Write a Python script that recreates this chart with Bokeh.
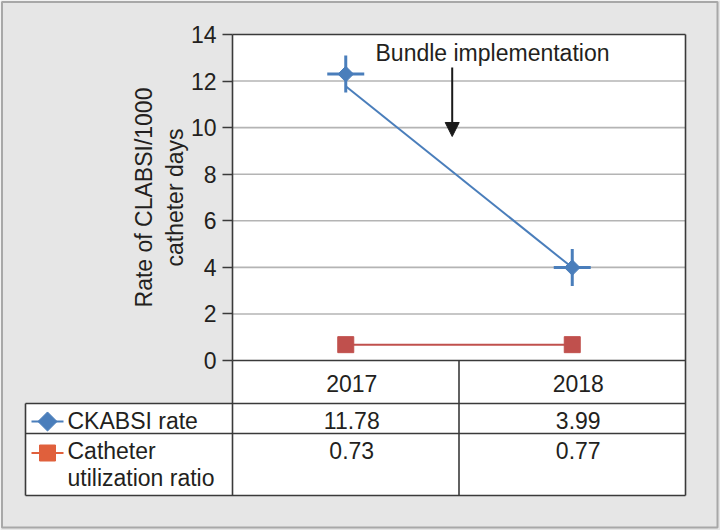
import numpy as np
from bokeh.plotting import figure
from bokeh.models import Range1d, LinearAxis, FixedTicker, Arrow, NormalHead
from bokeh.core.properties import value
from bokeh.embed import file_html
from bokeh.resources import INLINE

# ---------------- data ----------------
years = ["2017", "2018"]
ckabsi_rate = [11.78, 3.99]          # table values (line drawn through them)
ckabsi_marker = [12.3, 3.99]         # marker positions as drawn in the picture
util_ratio = [0.73, 0.77]            # table values
util_ratio_drawn = [0.68, 0.68]      # as drawn in the picture
y_ticks = [0, 2, 4, 6, 8, 10, 12, 14]
series_labels = ["CKABSI rate", "Catheter\nutilization ratio"]
y_title = "Rate of CLABSI/1000\ncatheter days"
note_text = "Bundle implementation"
note_x = 0.97          # arrow position between the two years (category units)
note_y_top = 12.58
note_y_tip = 9.62

# ---------------- layout helpers (page px -> data) ----------------
X0_PX, X_SCALE = 232.0, 226.5
Y0_PX, Y_SCALE = 360.0, 326.0 / 14.0


def dx(px):
    return (px - X0_PX) / X_SCALE


def dy(py):
    return (Y0_PX - py) / Y_SCALE


W, H = 720, 530
FONT = value("Liberation Sans")
TXT = "#231f20"
FS = "23px"
BLUE = "#4a7ebb"
RED = "#c0504d"
GRID = "#b4b4b4"
EDGE = "#3a3a3a"
BG = "#e6e6e6"

p = figure(width=W, height=H,
           x_range=Range1d(dx(0), dx(W)), y_range=Range1d(dy(H), dy(0)),
           x_axis_type=None, y_axis_type=None, toolbar_location=None,
           output_backend="svg", min_border=0)
p.outline_line_color = None
p.background_fill_color = BG
p.border_fill_color = BG

ncat = len(years)
xpos = np.arange(ncat) + 0.5
ymax = y_ticks[-1]

# white areas: plot area, header row, table body
p.quad(left=0, right=ncat, bottom=0, top=ymax, fill_color="white", line_color=None)
p.quad(left=0, right=ncat, bottom=dy(403), top=0, fill_color="white", line_color=None)
p.quad(left=dx(25), right=ncat, bottom=dy(495), top=dy(403), fill_color="white", line_color=None)

# grid lines
gl = [t for t in y_ticks if 0 < t < ymax]
p.segment(x0=[0] * len(gl), x1=[ncat] * len(gl), y0=gl, y1=gl, line_color=GRID, line_width=1.6)

# frame / table lines
hx0 = [0, 0, dx(25), dx(25), dx(25)]
hx1 = [ncat] * 5
hy = [ymax, 0, dy(403), dy(433), dy(495)]
p.segment(x0=hx0, x1=hx1, y0=hy, y1=hy, line_color=EDGE, line_width=1.6)
vx = [dx(25), 0, 1, ncat]
vy0 = [dy(403), 0, 0, ymax]
vy1 = [dy(495)] * 4
p.segment(x0=vx, x1=vx, y0=vy0, y1=vy1, line_color=EDGE, line_width=1.6)

# outer panel border
p.quad(left=dx(1.5), right=dx(717), bottom=dy(527), top=dy(1.5),
       fill_color=None, line_color="#a8a8a8", line_width=2)

# series
p.line(xpos, ckabsi_rate, line_color=BLUE, line_width=2)
p.scatter(xpos, ckabsi_marker, marker="cross", size=37, line_color=BLUE, line_width=3)
p.scatter(xpos, ckabsi_marker, marker="square", angle=np.pi / 4, size=11,
          fill_color=BLUE, line_color=BLUE)
p.line(xpos, util_ratio_drawn, line_color=RED, line_width=2)
p.scatter(xpos, util_ratio_drawn, marker="square", size=16, fill_color=RED, line_color=RED)

# y axis
yaxis = LinearAxis(fixed_location=0, bounds=(0, ymax), ticker=FixedTicker(ticks=y_ticks),
                   axis_label=y_title)
yaxis.axis_line_color = EDGE
yaxis.axis_line_width = 1.6
yaxis.major_tick_line_color = EDGE
yaxis.major_tick_line_width = 1.4
yaxis.major_tick_out = 10
yaxis.major_tick_in = 0
yaxis.minor_tick_out = 0
yaxis.minor_tick_in = 0
yaxis.major_label_standoff = 6
yaxis.major_label_text_font = "Liberation Sans"
yaxis.major_label_text_font_size = FS
yaxis.major_label_text_color = TXT
yaxis.axis_label_text_font = "Liberation Sans"
yaxis.axis_label_text_font_size = FS
yaxis.axis_label_text_font_style = "normal"
yaxis.axis_label_text_color = TXT
yaxis.axis_label_standoff = 0
p.add_layout(yaxis, "left")

# annotation
tkw = dict(text_font=FONT, text_font_size=FS, text_color=TXT, text_baseline="middle")
p.text(x=[dx(375)], y=[dy(52.5)], text=[note_text], text_align="left", **tkw)
p.add_layout(Arrow(x_start=note_x, y_start=note_y_top, x_end=note_x, y_end=note_y_tip,
                   line_color="#1a1a1a", line_width=2,
                   end=NormalHead(size=14, fill_color="#1a1a1a", line_color="#1a1a1a")))

# table texts (positions = visual centre of capitals)
p.text(x=xpos, y=[dy(383)] * ncat, text=years, text_align="center", x_offset=6, **tkw)
p.text(x=xpos, y=[dy(420)] * ncat, text=[f"{v:.2f}" for v in ckabsi_rate],
       text_align="center", x_offset=6, **tkw)
p.text(x=xpos, y=[dy(450)] * ncat, text=[f"{v:.2f}" for v in util_ratio],
       text_align="center", x_offset=6, **tkw)

row_centres = [420, 450]
lab_x, lab_y, lab_t = [], [], []
for lbl, cy in zip(series_labels, row_centres):
    for i, part in enumerate(lbl.split("\n")):
        lab_x.append(dx(67))
        lab_y.append(dy(cy + 27 * i))
        lab_t.append(part)
p.text(x=lab_x, y=lab_y, text=lab_t, text_align="left", **tkw)

# legend keys inside the table
p.segment(x0=[dx(31)], x1=[dx(63)], y0=[dy(421)], y1=[dy(421)], line_color=BLUE, line_width=2)
p.scatter([dx(47)], [dy(421)], marker="square", angle=np.pi / 4, size=13.5,
          fill_color=BLUE, line_color=BLUE)
p.segment(x0=[dx(31)], x1=[dx(63)], y0=[dy(452.5)], y1=[dy(452.5)], line_color="#e0603c", line_width=2)
p.scatter([dx(47)], [dy(452.5)], marker="square", size=16, fill_color="#e0603c", line_color="#e0603c")

open("out.html", "w").write(file_html(p, INLINE))
